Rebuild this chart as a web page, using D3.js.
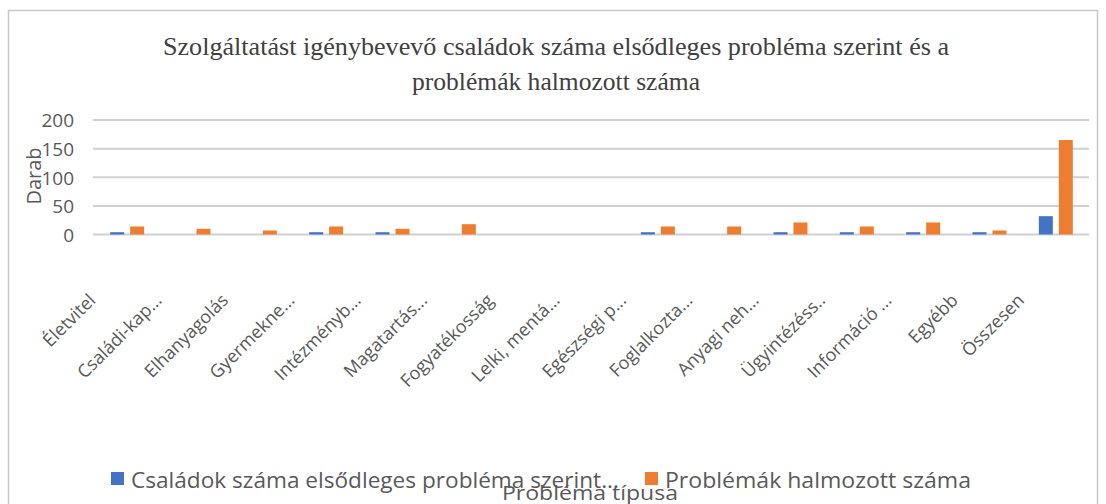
<!DOCTYPE html>
<html>
<head>
<meta charset="utf-8">
<script src="https://cdn.jsdelivr.net/npm/d3@7"></script>
<style>
  body { margin: 0; background: #fff; }
  svg { display: block; }
</style>
</head>
<body>
<script>
// Data
const categories = ['Életvitel', 'Családi-kap...', 'Elhanyagolás', 'Gyermekne...', 'Intézményb...',
  'Magatartás...', 'Fogyatékosság', 'Lelki, mentá...', 'Egészségi p...', 'Foglalkozta...',
  'Anyagi neh...', 'Ügyintézéss..', 'Információ ...', 'Egyébb', 'Összesen'];
const csaladok = [4, 0, 0, 4, 4, 0, 0, 0, 4, 0, 4, 4, 4, 4, 32];
const problemak = [14, 10, 7, 14, 10, 18, 0, 0, 14, 14, 21, 14, 21, 7, 165];
const seriesNames = ['Családok száma elsődleges probléma szerint...', 'Problémák halmozott száma'];
const yTicks = [0, 50, 100, 150, 200];
const titleLines = ['Szolgáltatást igénybevevő családok száma elsődleges probléma szerint és a',
  'problémák halmozott száma'];

const fullWidth = 1106;
const fullHeight = 504;
const colors = ['#4472C4', '#ED7D31'];
const textColor = '#595959';

const svg = d3.select('body')
  .append('svg')
  .attr('width', fullWidth)
  .attr('height', fullHeight);

// chart border
svg.append('rect')
  .attr('x', 8.5)
  .attr('y', 10.5)
  .attr('width', 1089)
  .attr('height', 520)
  .attr('fill', 'none')
  .attr('stroke', '#c8c8c8')
  .attr('stroke-width', 1.5);

// Title
svg.selectAll('.title')
  .data(titleLines)
  .enter()
  .append('text')
  .attr('class', 'title')
  .attr('x', 556)
  .attr('y', (d, i) => 55 + i * 35)
  .attr('text-anchor', 'middle')
  .attr('textLength', (d, i) => (i === 0 ? 786 : 288))
  .attr('lengthAdjust', 'spacingAndGlyphs')
  .style('font-family', '"Liberation Serif", "Times New Roman", serif')
  .style('font-size', '25px')
  .style('fill', '#404040')
  .text(d => d);

// Scales
const x0 = d3.scaleBand()
  .domain(categories)
  .range([94, 1089])
  .paddingInner(0.488)
  .paddingOuter(0.244);

const x1 = d3.scaleBand()
  .domain([0, 1])
  .range([0, x0.bandwidth()])
  .paddingInner(0.3);

const y = d3.scaleLinear()
  .domain([0, 200])
  .range([234.5, 120]);

// Gridlines
svg.append('g')
  .selectAll('line')
  .data(yTicks)
  .enter()
  .append('line')
  .attr('x1', 93)
  .attr('x2', 1089)
  .attr('y1', d => y(d))
  .attr('y2', d => y(d))
  .attr('stroke', '#d0d0d0')
  .attr('stroke-width', 2);

// Y axis labels
const yAxis = svg.append('g')
  .attr('transform', 'translate(74,0)')
  .call(d3.axisLeft(y).tickValues(yTicks).tickSize(0).tickPadding(0));
yAxis.select('.domain').remove();
yAxis.selectAll('text')
  .attr('dy', '0.36em')
  .style('font-family', '"Open Sans", sans-serif')
  .style('font-size', '19px')
  .style('fill', textColor);

// Bars
const rows = categories.map((c, i) => ({ cat: c, vals: [csaladok[i], problemak[i]] }));

const group = svg.append('g')
  .selectAll('g')
  .data(rows)
  .enter()
  .append('g')
  .attr('transform', d => `translate(${x0(d.cat)},0)`);

group.selectAll('rect')
  .data(d => d.vals.map((v, k) => ({ k, v })))
  .enter()
  .append('rect')
  .attr('x', d => x1(d.k))
  .attr('width', x1.bandwidth())
  .attr('y', d => y(d.v))
  .attr('height', d => y(0) - y(d.v))
  .attr('fill', d => colors[d.k]);

// Category labels (rotated, ending just left of each group)
svg.append('g')
  .selectAll('text')
  .data(categories)
  .enter()
  .append('text')
  .attr('transform', d => {
    const cx = x0(d) + x0.bandwidth() / 2 - 35;
    return `translate(${cx},${262 + 35}) rotate(-45)`;
  })
  .attr('text-anchor', 'end')
  .attr('dy', '0.35em')
  .style('font-family', '"Open Sans", sans-serif')
  .style('font-size', '18px')
  .style('fill', textColor)
  .text(d => d);

// Y axis title
svg.append('text')
  .attr('transform', 'translate(34,176) rotate(-90)')
  .attr('text-anchor', 'middle')
  .attr('dy', '0.35em')
  .style('font-family', '"Open Sans", sans-serif')
  .style('font-size', '20px')
  .style('fill', textColor)
  .text('Darab');

// Legend
const legendX = [111, 645];
const legendW = [488, 306];
const leg = svg.append('g');
leg.selectAll('rect')
  .data(seriesNames)
  .enter()
  .append('rect')
  .attr('x', (d, i) => legendX[i])
  .attr('y', 472)
  .attr('width', 13)
  .attr('height', 13)
  .attr('fill', (d, i) => colors[i]);

leg.selectAll('text')
  .data(seriesNames)
  .enter()
  .append('text')
  .attr('x', (d, i) => legendX[i] + 20)
  .attr('y', 488)
  .attr('textLength', (d, i) => legendW[i])
  .attr('lengthAdjust', 'spacingAndGlyphs')
  .style('font-family', '"Open Sans", sans-serif')
  .style('font-size', '21px')
  .style('fill', textColor)
  .text(d => d);

// X axis title
svg.append('text')
  .attr('x', 590)
  .attr('y', 500)
  .attr('text-anchor', 'middle')
  .attr('textLength', 176)
  .attr('lengthAdjust', 'spacingAndGlyphs')
  .style('font-family', '"Open Sans", sans-serif')
  .style('font-size', '20px')
  .style('fill', textColor)
  .text('Probléma típusa');
</script>
</body>
</html>
